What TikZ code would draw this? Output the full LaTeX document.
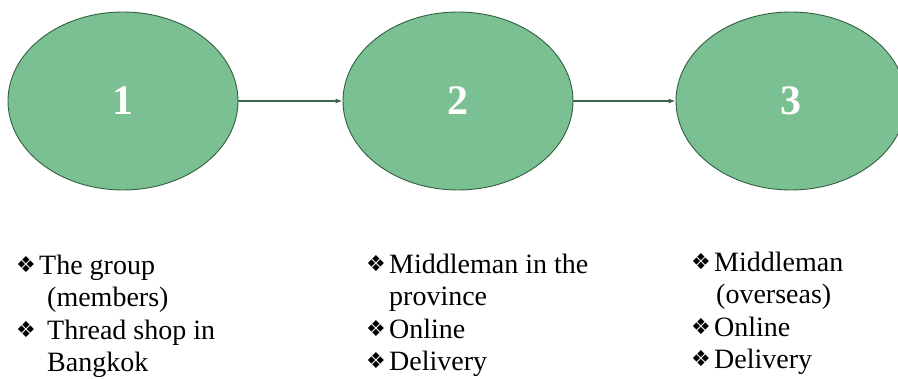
\documentclass[tikz,border=0pt]{standalone}
\usepackage{fontspec}
\setmainfont{Liberation Serif}
\newfontfamily\symfont{DejaVu Sans}
\usetikzlibrary{shapes.geometric,arrows.meta}
\definecolor{stagefill}{RGB}{122,192,146}
\definecolor{stageline}{RGB}{52,96,66}
\definecolor{flowline}{RGB}{60,100,75}
\newcommand\dia{{\fontsize{22}{22}\selectfont\symfont ❖}}
\newcommand\bitem[2][23pt]{\makebox[#1][l]{\raisebox{2pt}{\dia}}#2}
\newcommand\bcont[2][23pt]{\hspace*{#1}#2}
\tikzset{
  stage/.style={ellipse, draw=stageline, line width=0.9pt, fill=stagefill,
    minimum width=230pt, minimum height=178pt, inner sep=0pt,
    text=white, font=\fontsize{42}{42}\selectfont\bfseries},
  flow/.style={draw=flowline, line width=1.1pt, -{Latex[length=7pt,width=5pt]}},
  items/.style={anchor=base west, inner sep=0pt, align=left,
    font=\fontsize{28}{32.5}\selectfont}
}
\begin{document}
\begin{tikzpicture}[x=1pt,y=-1pt]
  \useasboundingbox (0,0) rectangle (898,379);
  % three stages
  \node[stage] (s1) at (123,101) {1};
  \node[stage] (s2) at (458,101) {2};
  \node[stage] (s3) at (791,101) {3};
  \draw[flow] (s1) -- (s2);
  \draw[flow] (s2) -- (s3);
  % item lists under each stage (anchored at the last baseline)
  \node[items] (l1) at (16,372) {\bitem{The group}\\
    \bcont[31pt]{(members)}\\
    \bitem[31pt]{Thread shop in}\\
    \bcont[31pt]{Bangkok}};
  \node[items] (l2) at (366,371) {\bitem{Middleman in the}\\
    \bcont{province}\\
    \bitem{Online}\\
    \bitem{Delivery}};
  \node[items] (l3) at (691,369) {\bitem{Middleman}\\
    \bcont[25pt]{(overseas)}\\
    \bitem{Online}\\
    \bitem{Delivery}};
\end{tikzpicture}
\end{document}
